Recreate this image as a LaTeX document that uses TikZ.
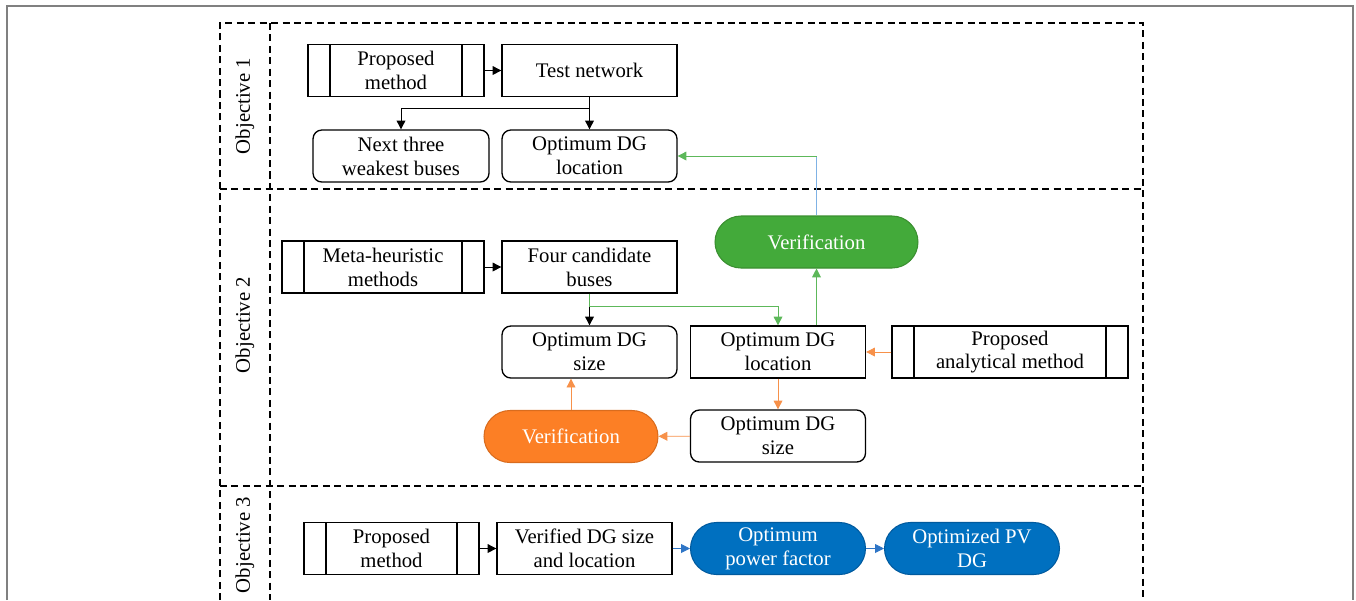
\documentclass[tikz,border=0pt]{standalone}
\usepackage{fontspec}
\setmainfont{Liberation Serif}
\usetikzlibrary{calc, positioning, arrows.meta, shapes.misc}

\definecolor{vgreen}{HTML}{43AA3A}
\definecolor{vgreendark}{HTML}{3A8F30}
\definecolor{vorange}{HTML}{FC7F25}
\definecolor{vorangedark}{HTML}{D96C1E}
\definecolor{pfblue}{HTML}{0070C0}
\definecolor{pfbluedark}{HTML}{005A9E}
\definecolor{lgreen}{HTML}{5DB85A}
\definecolor{lorange}{HTML}{F7914A}
\definecolor{lblue}{HTML}{2E75C6}
\definecolor{skyline}{HTML}{7FB2E5}

\begin{document}
\begin{tikzpicture}[x=0.02cm, y=-0.02cm,
  every node/.style={font=\fontsize{11.8}{13.6}\selectfont, align=center, inner sep=0pt},
  box/.style={draw, line width=0.75pt, minimum width=3.5cm, minimum height=1.04cm},
  roundbox/.style={box, rounded corners=5pt},
  procbox/.style={box, path picture={
      \draw[line width=0.75pt]
        ([xshift=0.44cm]path picture bounding box.north west) --
        ([xshift=0.44cm]path picture bounding box.south west)
        ([xshift=-0.44cm]path picture bounding box.north east) --
        ([xshift=-0.44cm]path picture bounding box.south east);}},
  pill/.style={rounded rectangle, draw, line width=0.6pt, text=white,
    minimum width=3.5cm, minimum height=1.04cm},
  frame/.style={draw, line width=0.7pt, dash pattern=on 4pt off 2.5pt},
  conn/.style={draw, line width=0.5pt, -{Triangle[length=5pt,width=5pt]}},
  gconn/.style={conn, color=lgreen},
  oconn/.style={conn, color=lorange},
  bconn/.style={conn, color=lblue}]

  \useasboundingbox (0,0) rectangle (1356,600);

  % outer frame of the figure
  \draw[gray, line width=0.8pt] (7,600) -- (7,6) -- (1353,6) -- (1353,600);

  % dashed frames of the three objectives
  \draw[frame] (220,600) -- (220,23) -- (1143,23) -- (1143,600);
  \draw[frame] (270,23) -- (270,600);
  \draw[frame] (220,189) -- (1143,189);
  \draw[frame] (220,486) -- (1143,486);
  \node[rotate=90] (obj1) at (245,106) {Objective 1};
  \node[rotate=90] (obj2) at (245,325) {Objective 2};
  \node[rotate=90] (obj3) at (245,545) {Objective 3};

  % Objective 1
  \node[procbox, minimum width=3.52cm] (pm1) at (396,70.5) {Proposed\\method};
  \node[box] (tn) at (589.5,70.5) {Test network};
  \node[roundbox, minimum width=3.52cm] (ntw) at (401,156) {Next three\\weakest buses};
  \node[roundbox] (odl1) at (589.5,156) {Optimum DG\\location};

  % Objective 2
  \node[procbox, minimum width=4.04cm] (mh) at (383,267) {Meta-heuristic\\methods};
  \node[box] (fcb) at (589.5,267) {Four candidate\\buses};
  \node[roundbox] (ods2) at (589.5,352) {Optimum DG\\size};
  \node[box] (odl2) at (778,352) {Optimum DG\\location};
  \node[procbox, minimum width=4.72cm] (pam) at (1010,352) {Proposed\\analytical method};
  \node[roundbox] (ods3) at (778,436) {Optimum DG\\size};
  \node[pill, fill=vgreen, draw=vgreendark, minimum width=4.06cm] (verG) at (816.5,242) {Verification};
  \node[pill, fill=vorange, draw=vorangedark, minimum width=3.48cm] (verO) at (571,436.5) {Verification};

  % Objective 3
  \node[procbox] (pm3) at (391.5,548.5) {Proposed\\method};
  \node[box] (vds) at (584.5,548.5) {Verified DG size\\and location};
  \node[pill, fill=pfblue, draw=pfbluedark] (opf) at (778,548.5) {Optimum\\power factor};
  \node[pill, fill=pfblue, draw=pfbluedark] (opv) at (972,548.5) {Optimized PV\\DG};

  % connectors
  \draw[conn] (pm1) -- (tn);
  \draw[conn] (tn) -- (odl1);
  \draw[conn] (tn.south) -- ++(0,11) -| (ntw.north);

  \draw[conn] (mh) -- (fcb);
  \draw[conn] (fcb) -- (ods2);
  \draw[gconn] (fcb.south) -- ++(0,13) -| (odl2.north);
  \draw[gconn] (odl2.north -| verG.south) -- (verG.south);
  \coordinate (vtop) at (verG.north |- odl1.east);
  \draw[skyline, line width=0.5pt] (verG.north) -- (vtop);
  \draw[gconn] (vtop) -- (odl1.east);
  \draw[oconn] (pam) -- (odl2);
  \draw[oconn] (odl2) -- (ods3);
  \draw[oconn] (ods3) -- (verO);
  \draw[oconn] (verO.north) -- (verO.north |- ods2.south);

  \draw[conn] (pm3) -- (vds);
  \draw[bconn] (vds) -- (opf);
  \draw[bconn] (opf) -- (opv);
\end{tikzpicture}
\end{document}
